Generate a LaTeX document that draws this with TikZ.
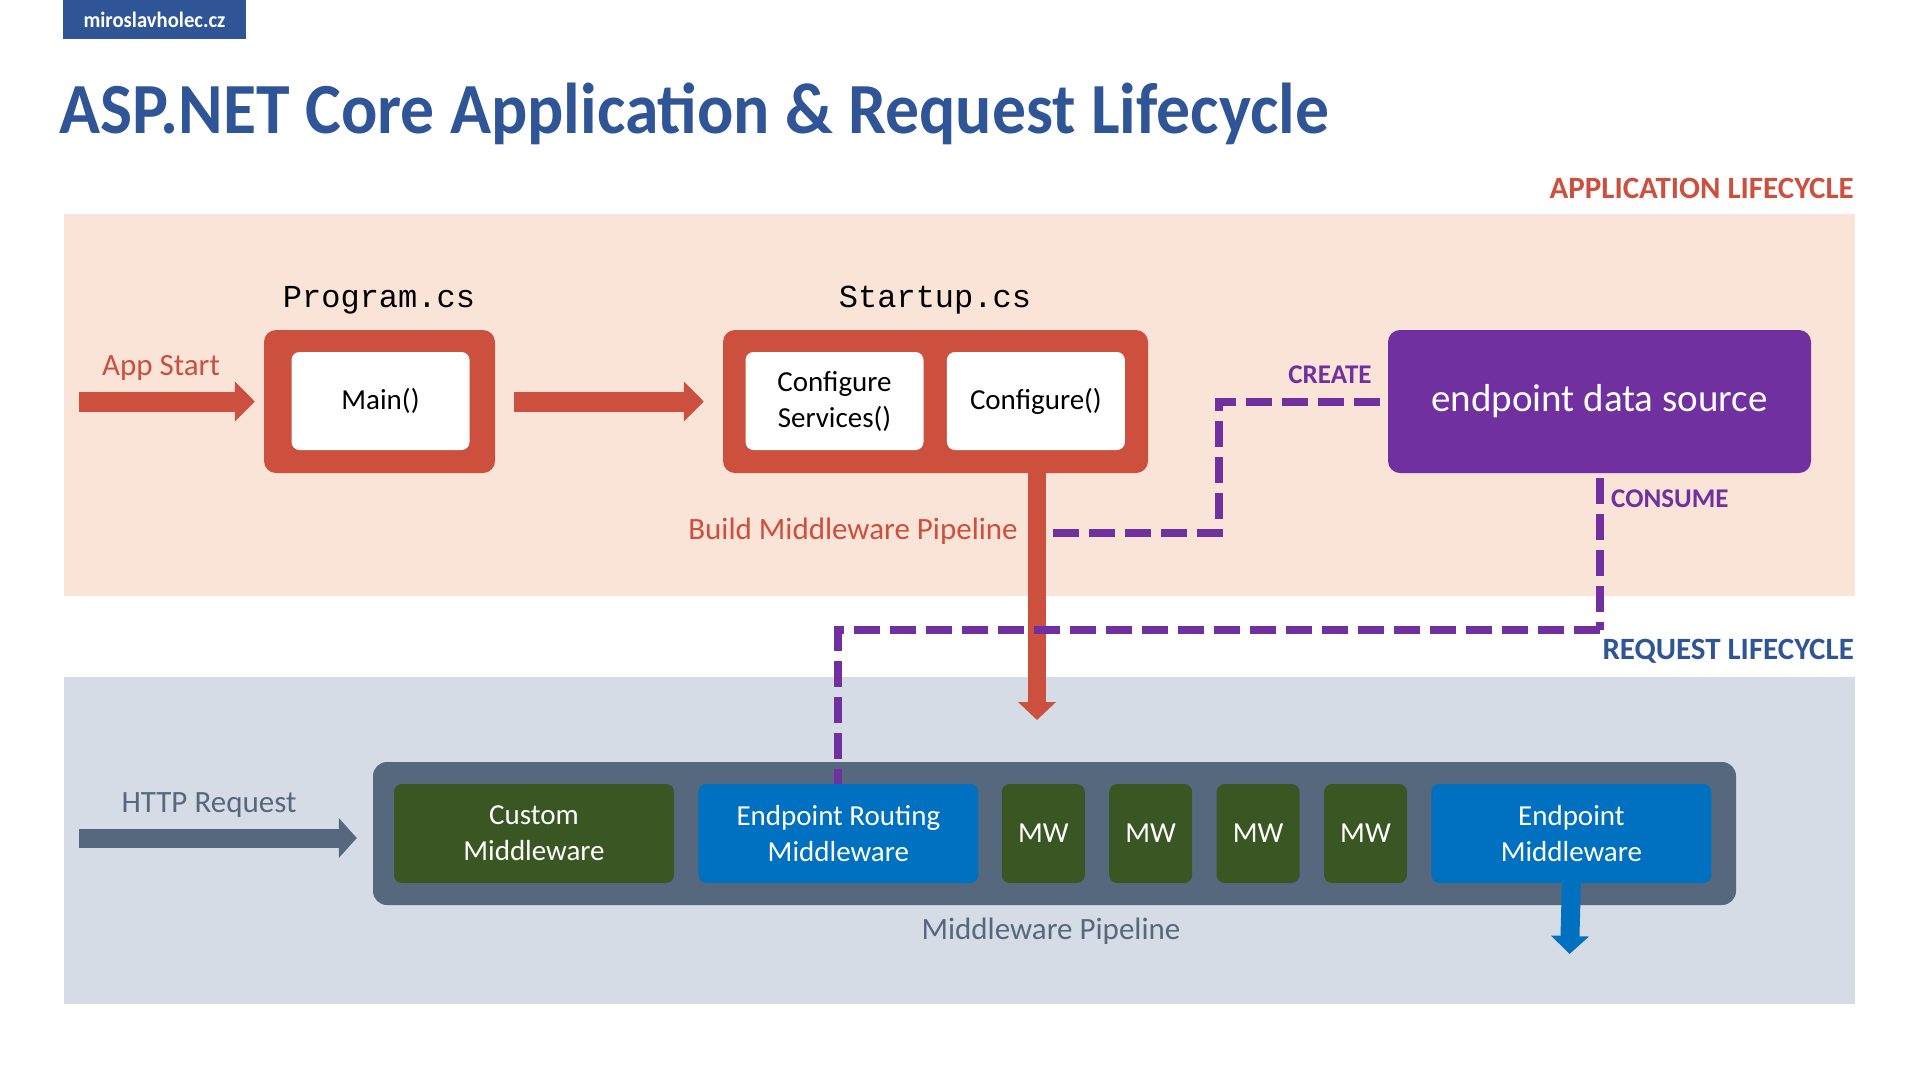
\documentclass[tikz,border=0pt]{standalone}
\usepackage{fontspec}
\setmainfont{Carlito}
\setmonofont{Liberation Mono}
\newfontfamily\headfont[FakeStretch=0.94]{Carlito}
\usepackage{xcolor}
\usetikzlibrary{positioning,arrows.meta,calc}
\definecolor{aspred}{HTML}{CD4F3D}
\definecolor{asppeach}{HTML}{FAE4D7}
\definecolor{aspgrey}{HTML}{D6DCE5}
\definecolor{aspslate}{HTML}{56687E}
\definecolor{aspgreen}{HTML}{3A5623}
\definecolor{aspblue}{HTML}{0070C0}
\definecolor{asppurple}{HTML}{7030A0}
\definecolor{aspnavy}{HTML}{2F5597}
\tikzset{
redbox/.style={
fill=aspred,
rounded corners=12pt,
minimum height=143pt
},
whitebox/.style={
fill=white,
rounded corners=8pt,
minimum width=178pt,
minimum height=98pt,
align=center,
font=\fontsize{29}{36}\selectfont
},
sourcebox/.style={
fill=asppurple,
rounded corners=12pt,
minimum width=423pt,
minimum height=143pt,
text=white,
font=\fontsize{39}{46}\selectfont
},
pipebox/.style={
fill=aspslate,
rounded corners=14pt,
minimum width=1363pt,
minimum height=143pt
},
greenmw/.style={
fill=aspgreen,
rounded corners=8pt,
minimum width=83pt,
minimum height=99pt,
align=center,
text=white,
font=\fontsize{29}{36}\selectfont
},
bluemw/.style={
greenmw,
fill=aspblue,
minimum width=280pt
},
filelabel/.style={
inner sep=0pt,
font=\ttfamily\fontsize{32}{36}\selectfont
},
lifelabel/.style={
inner sep=0pt,
font=\bfseries\fontsize{31}{36}\selectfont
},
textlabel/.style={
inner sep=0pt,
font=\fontsize{31}{36}\selectfont
},
flowlabel/.style={
inner sep=0pt,
text=asppurple,
font=\bfseries\fontsize{27}{32}\selectfont
},
redarrow/.style={
aspred,
line width=20pt,
-{Triangle[length=20pt,width=39pt]}
},
slatearrow/.style={
aspslate,
line width=19pt,
-{Triangle[length=18pt,width=39pt]}
},
bluearrow/.style={
aspblue,
line width=19pt,
-{Triangle[length=18pt,width=37pt]}
},
dataflow/.style={
asppurple,
line width=8pt,
dash pattern=on 26pt off 10pt
}
}
\begin{document}
\begin{tikzpicture}[x=1pt,y=-1pt]
\useasboundingbox (0,0) rectangle (1920,1080);
% lifecycle bands
\fill[asppeach] (64,214) rectangle (1855,596);
\fill[aspgrey] (64,677) rectangle (1855,1004);

\node[fill=aspnavy,minimum width=183pt,minimum height=39pt,text=white,
font=\headfont\bfseries\fontsize{22}{26}\selectfont] (site) at (154.5,19.5) {miroslavholec.cz};
\node[inner sep=0pt,anchor=base west,text=aspnavy,
font=\headfont\bfseries\fontsize{72}{80}\selectfont] (title) at (59,133) {ASP.NET Core Application \& Request Lifecycle};

\node[lifelabel,text=aspred,anchor=base east](applife) at (1854,198){APPLICATION LIFECYCLE};
\node[lifelabel,text=aspnavy,anchor=base east](reqlife) at (1854,659){REQUEST LIFECYCLE};

% application lifecycle
\node[redbox,minimum width=231pt](program) at (379.5,401.5){};
\node[whitebox](main) at (380.5,401){Main()};
\node[filelabel,anchor=base](programlbl) at (379,307){Program.cs};

\node[redbox,minimum width=425pt](startup) at (935.5,401.5){};
\node[whitebox](cfgsvc) at (834.5,401){Configure\\Services()};
\node[whitebox,right=23pt of cfgsvc](cfg){Configure()};
\node[filelabel,anchor=base](startuplbl) at (935,307){Startup.cs};

\node[sourcebox](source) at (1599.5,401.5){endpoint data source};

\coordinate (appstart) at (79,401.5);
\node[textlabel,text=aspred,anchor=base](appstartlbl) at (161,375){App Start};
\draw[redarrow,shorten >=9pt](appstart)--(program);
\draw[redarrow,shorten <=19pt,shorten >=19pt](program)--(startup);

\coordinate (buildend) at (1037,720);
\draw[redarrow,line width=18pt,-{Triangle[length=18pt,width=37pt]}](startup.south -| buildend)--(buildend);
\node[textlabel,text=aspred,anchor=base east](buildlbl) at (1018,539){Build Middleware Pipeline};

% create / consume
\coordinate (createstart) at (1053,533);
\coordinate (createturn) at (1219,401.5);
\draw[dataflow,shorten >=8pt](createstart)-|(createturn)--(source);
\node[flowlabel,anchor=base](createlbl) at (1330,383){CREATE};

\coordinate (consumeturn) at (1599.5,630);
\draw[dataflow,shorten <=5pt](source)--(consumeturn);
\node[flowlabel,anchor=base west](consumelbl) at (1611,507){CONSUME};

% request lifecycle
\node[pipebox](pipeline) at (1054.5,833.5){};
\node[greenmw,minimum width=280pt](custom) at (534,833.5){Custom\\Middleware};
\node[bluemw,right=24pt of custom](routing){Endpoint Routing\\Middleware};
\node[greenmw,right=23pt of routing](mwa){MW};
\node[greenmw,right=24pt of mwa](mwb){MW};
\node[greenmw,right=24pt of mwb](mwc){MW};
\node[greenmw,right=24pt of mwc](mwd){MW};
\node[bluemw,right=24pt of mwd](endpoint){Endpoint\\Middleware};
\node[textlabel,text=aspslate,anchor=base](pipelbl) at (1051,939){Middleware Pipeline};

\draw[dataflow](consumeturn)-|(routing);

\coordinate (httpstart) at (79,838);
\node[textlabel,text=aspslate,anchor=base](httplbl) at (209,812){HTTP Request};
\draw[slatearrow,shorten >=16pt](httpstart)--(httpstart -| pipeline.west);

\coordinate (endout) at (1569.5,954);
\draw[bluearrow](endpoint.south)--(endout);
\end{tikzpicture}
\end{document}
